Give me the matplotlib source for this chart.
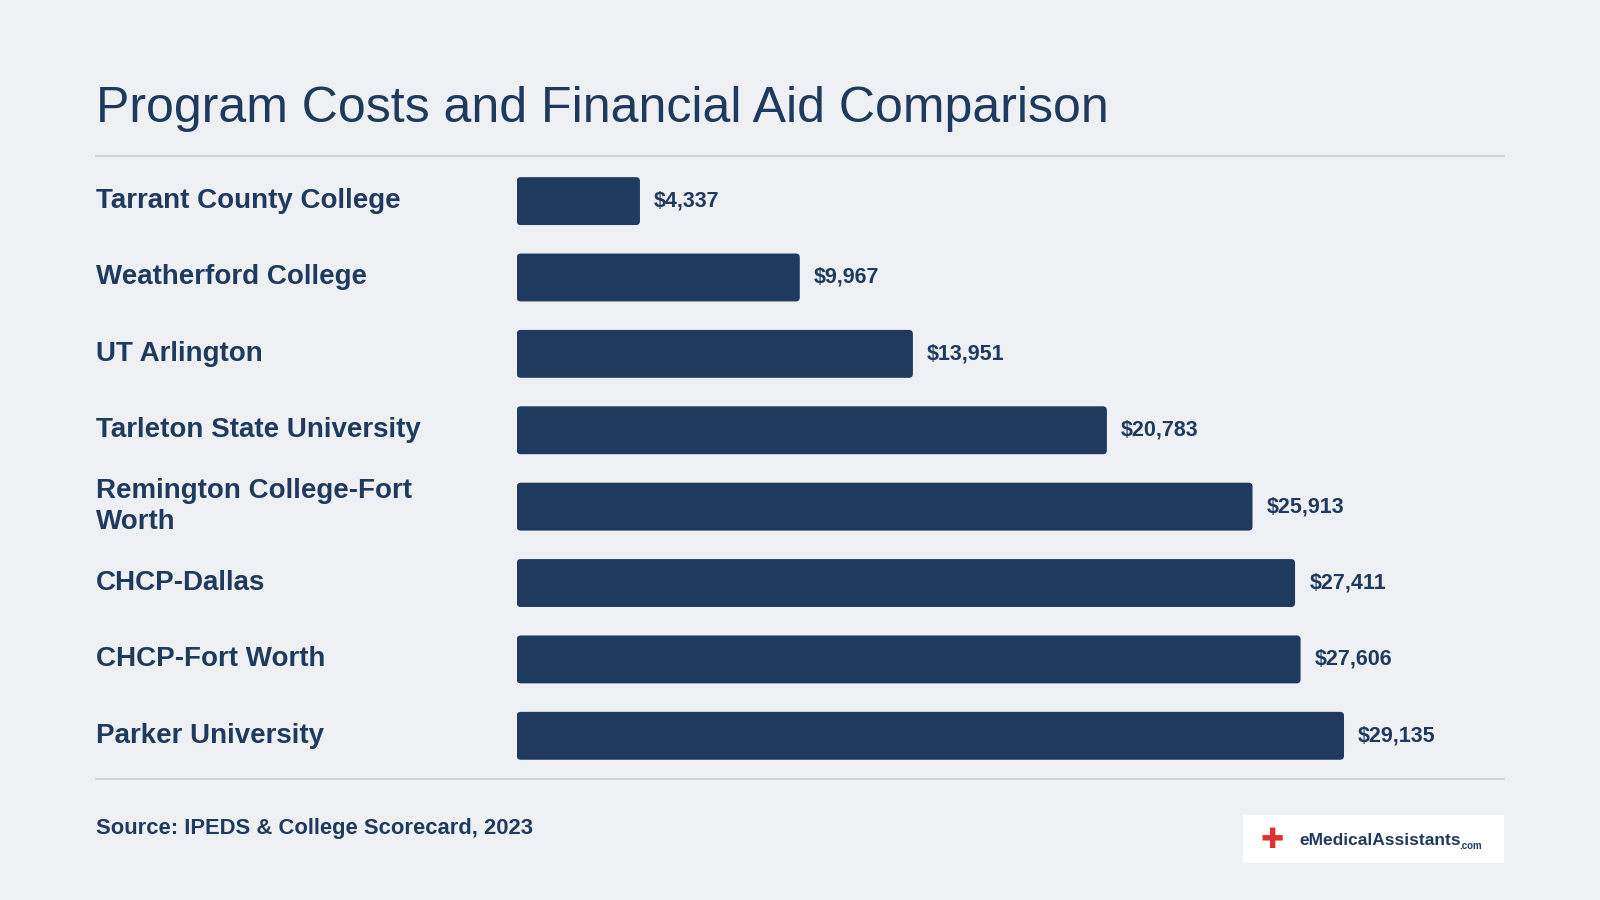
import matplotlib.pyplot as plt
from matplotlib.patches import FancyBboxPatch, Rectangle
from matplotlib.lines import Line2D

schools = ['Tarrant County College', 'Weatherford College', 'UT Arlington',
           'Tarleton State University', 'Remington College-Fort\nWorth',
           'CHCP-Dallas', 'CHCP-Fort Worth', 'Parker University']
costs = [4337, 9967, 13951, 20783, 25913, 27411, 27606, 29135]

BG = '#eff0f4'
NAVY = '#1f3a5f'
plt.rcParams['font.family'] = ['Liberation Sans', 'DejaVu Sans']

fig = plt.figure(figsize=(16, 9), dpi=100, facecolor=BG)
ax = fig.add_axes([0.323, 0.140, 0.617, 0.679])
ax.set_facecolor(BG)

bars = ax.barh(range(len(schools)), costs, height=0.627, color=NAVY)
# swap plain bars for slightly rounded ones
for b in bars:
    b.set_visible(False)
    ax.add_patch(FancyBboxPatch((b.get_x(), b.get_y()), b.get_width(), b.get_height(),
                                boxstyle='round,pad=0,rounding_size=140',
                                mutation_aspect=0.00037, fc=NAVY, ec='none'))
for i, v in enumerate(costs):
    ax.text(v + 500, i, f'${v:,}', va='center', ha='left', fontsize=15.5,
            fontweight='bold', color=NAVY)

ax.set_xlim(0, 34770)
ax.set_ylim(len(schools) - 0.5, -0.5)
ax.axis('off')

for i, s in enumerate(schools):
    y = ax.transData.transform((0, i))[1] / fig.bbox.height
    fig.text(0.060, y, s, va='center', ha='left', fontsize=20, fontweight='bold',
             color=NAVY, linespacing=1.25)

fig.text(0.060, 0.864, 'Program Costs and Financial Aid Comparison', fontsize=36,
         color=NAVY, va='baseline')
fig.add_artist(Line2D([0.060, 0.940], [0.827, 0.827], color='#c8ccd2', lw=1.2))
fig.add_artist(Line2D([0.060, 0.940], [0.134, 0.134], color='#c8ccd2', lw=1.2))
fig.text(0.060, 0.073, 'Source: IPEDS & College Scorecard, 2023', fontsize=15.8,
         fontweight='bold', color=NAVY, va='baseline')

# logo
fig.add_artist(Rectangle((0.777, 0.041), 0.163, 0.053, transform=fig.transFigure,
                         fc='white', ec='none'))
fig.text(0.795, 0.066, '✚', fontsize=20, color='#e0302f', va='center', ha='center')
fig.text(0.812, 0.066, 'eMedicalAssistants', fontsize=12.5, fontweight='bold',
         color=NAVY, va='center')
fig.text(0.912, 0.060, '.com', fontsize=7, fontweight='bold', color=NAVY, va='center')

fig.savefig('out.png', dpi=100, facecolor=BG)
